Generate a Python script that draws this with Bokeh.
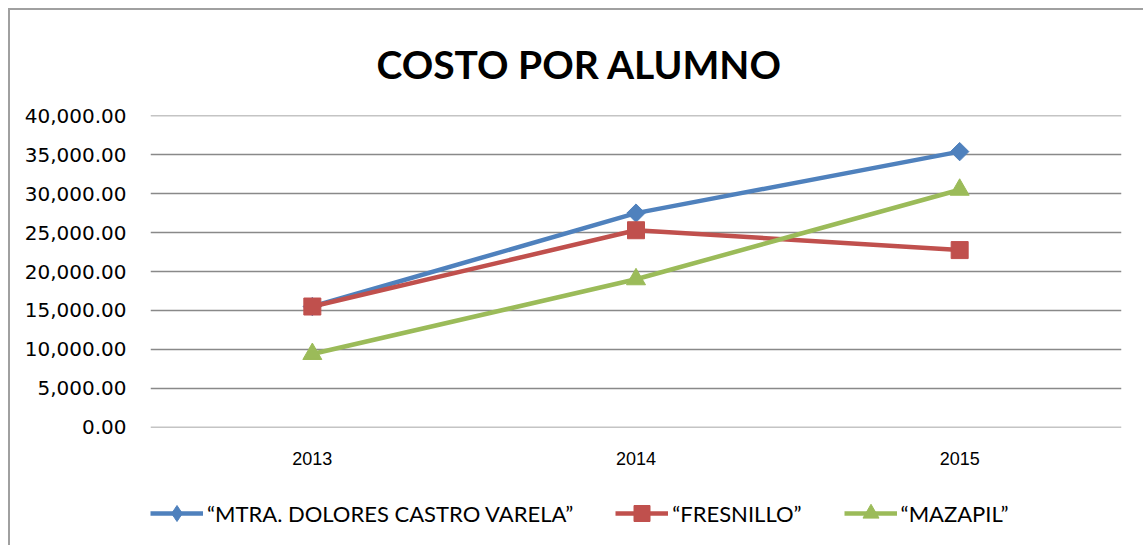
from bokeh.plotting import figure
from bokeh.layouts import column
from bokeh.models import Legend, LegendItem, NumeralTickFormatter, FixedTicker, Range1d, ColumnDataSource
from bokeh.embed import file_html
from bokeh.resources import INLINE
import math

years = ["2013", "2014", "2015"]
dolores = [15500, 27500, 35400]
fresnillo = [15500, 25300, 22750]
mazapil = [9400, 19000, 30500]
series_names = ["\u201cMTRA. DOLORES CASTRO VARELA\u201d", "\u201cFRESNILLO\u201d", "\u201cMAZAPIL\u201d"]
y_ticks = [0, 5000, 10000, 15000, 20000, 25000, 30000, 35000, 40000]
title_text = "COSTO POR ALUMNO"

BLUE = "#4F81BD"
RED = "#C0504D"
GREEN = "#9BBB59"

p = figure(x_range=years, y_range=Range1d(-40, 40040), width=1133, height=472,
           output_backend="svg", toolbar_location=None,
           min_border_left=140, min_border_right=22, min_border_top=104, min_border_bottom=55)
p.x_range.range_padding = 0

p.title.text = title_text
p.title.text_font = "Lato"
p.title.text_font_style = "bold"
p.title.text_font_size = "39px"
p.title.align = "left"
p.title.offset = 226
p.title.standoff = 57
p.title.text_color = "black"

p.outline_line_color = None
p.xgrid.grid_line_color = None
p.ygrid.grid_line_color = "#898989"
p.ygrid.grid_line_width = 1.5
p.yaxis.ticker = FixedTicker(ticks=y_ticks)
p.yaxis.formatter = NumeralTickFormatter(format="0,0.00")
for ax in (p.xaxis[0], p.yaxis[0]):
    ax.axis_line_color = None
    ax.major_tick_line_color = None
    ax.minor_tick_line_color = None
    ax.major_tick_out = 0
    ax.major_tick_in = 0
    ax.major_label_text_color = "black"
p.yaxis.major_label_text_font = "DejaVu Sans"
p.yaxis.major_label_text_font_size = "20px"
p.yaxis.major_label_standoff = 24
p.xaxis.major_label_text_font = "Liberation Sans"
p.xaxis.major_label_text_font_size = "18px"
p.xaxis.major_label_standoff = 24

styles = [
    (BLUE, "square", 13, math.pi / 4, "diamond"),
    (RED, "square", 17, 0, "square"),
    (GREEN, "triangle", 19, 0, "triangle"),
]
for vals, (color, marker, size, angle, _) in zip([dolores, fresnillo, mazapil], styles):
    src = ColumnDataSource(dict(x=years, y=vals))
    p.line("x", "y", source=src, line_color=color, line_width=4.5)
    p.scatter("x", "y", source=src, marker=marker, size=size, angle=angle,
              fill_color=color, line_color=color)

# legend strip below the chart (its frame is aligned with the chart's frame)
p2 = figure(x_range=Range1d(0, 1), y_range=Range1d(0, 1), width=1133, height=63,
            output_backend="svg", toolbar_location=None,
            min_border_left=0, min_border_right=0, min_border_top=0, min_border_bottom=0)
p2.axis.visible = False
p2.grid.visible = False
p2.outline_line_color = None
items = []
for name, (color, marker, size, angle, leg_marker) in zip(series_names, styles):
    # proxy glyphs kept outside the visible range, only used for the legend swatches
    src = ColumnDataSource(dict(x=[5, 6], y=[5, 6]))
    l = p2.line("x", "y", source=src, line_color=color, line_width=4.5)
    s = p2.scatter("x", "y", source=src, marker=leg_marker, size=size,
                   fill_color=color, line_color=color)
    items.append(LegendItem(label=name, renderers=[l, s]))
legend = Legend(items=items, orientation="horizontal", location=(0, 12),
                label_text_font="Lato", label_text_font_size="22px", label_text_color="black",
                glyph_width=53, glyph_height=40, label_standoff=4, spacing=42,
                border_line_alpha=0, background_fill_alpha=0, padding=0, margin=0)
p2.add_layout(legend, "center")

layout = column(p, p2, spacing=0, margin=(8, 0, 0, 8))
layout.styles = {"border-top": "2px solid #a0a0a0", "border-left": "2px solid #a0a0a0"}

open("out.html", "w").write(file_html(layout, INLINE))
